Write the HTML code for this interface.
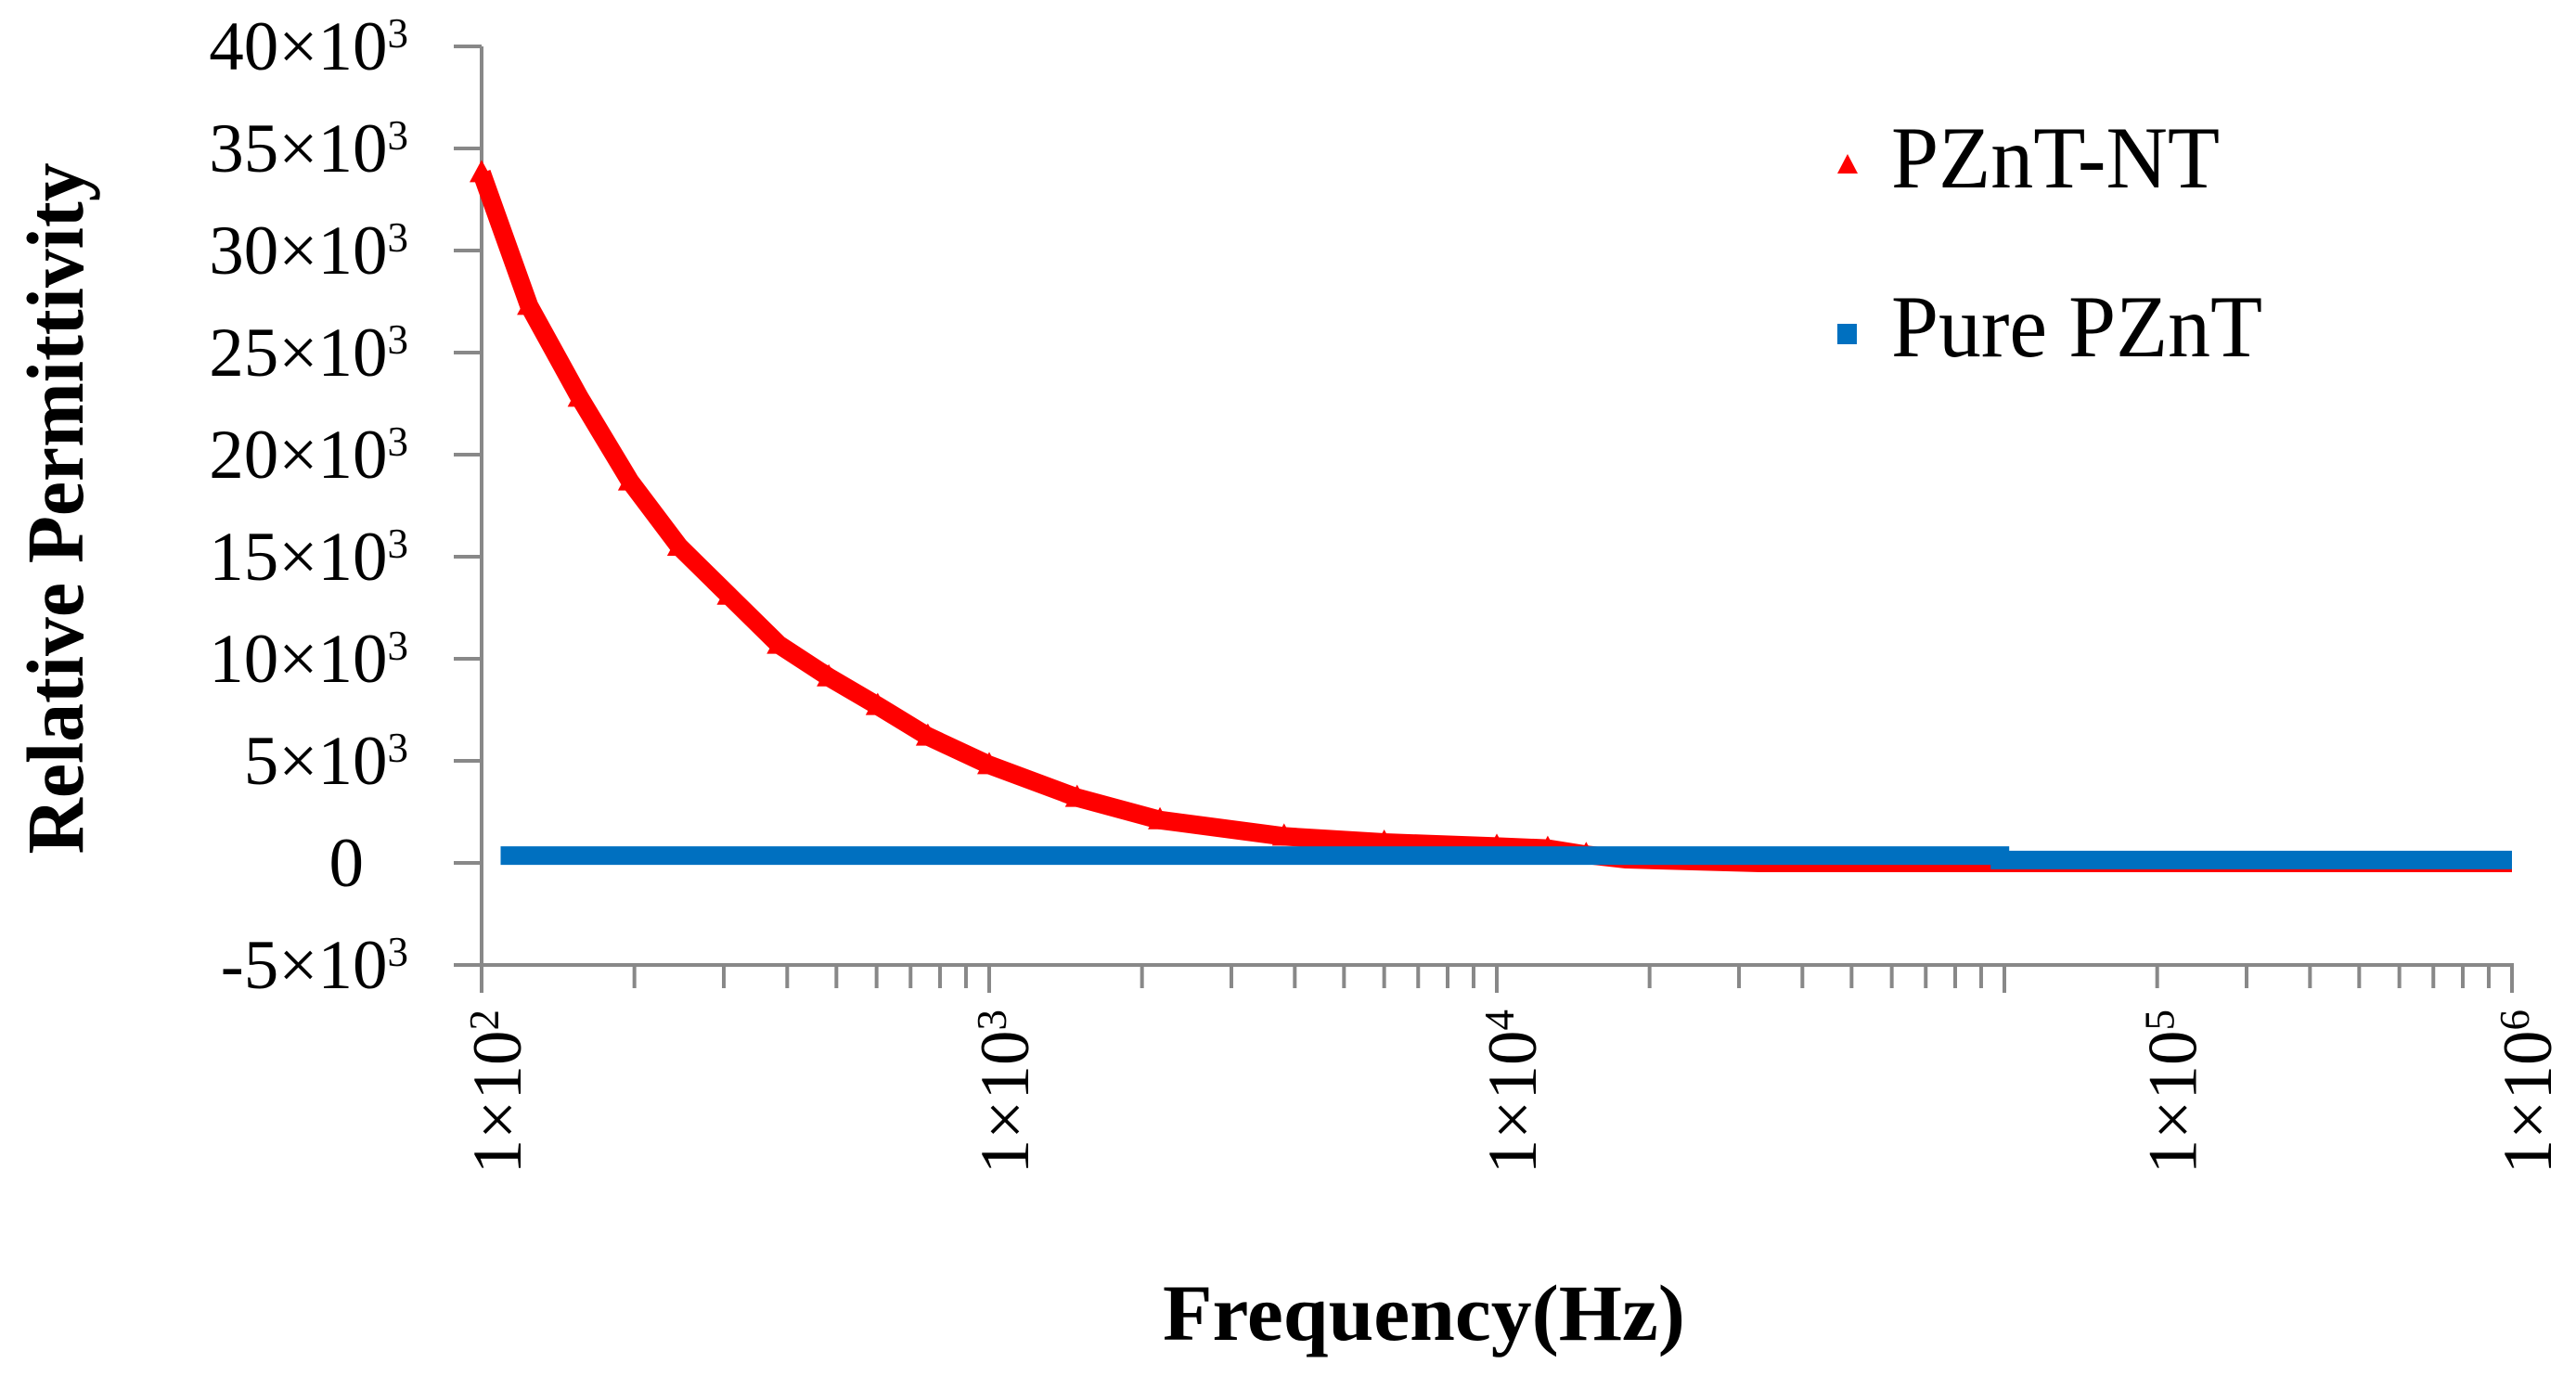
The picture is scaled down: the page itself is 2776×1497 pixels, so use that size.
<!DOCTYPE html>
<html><head><meta charset="utf-8"><style>
html,body{margin:0;padding:0;background:#fff;}
svg{display:block;font-family:"Liberation Serif",serif;}
</style></head><body>
<svg id="chart" width="2776" height="1497" viewBox="0 0 2776 1497" xmlns="http://www.w3.org/2000/svg">
<rect width="2776" height="1497" fill="#fff"/>
<g id="axes"></g>
<g id="series"></g>
<text transform="translate(89,548) rotate(-90)" text-anchor="middle" font-size="87" font-weight="bold" textLength="745" lengthAdjust="spacingAndGlyphs">Relative Permittivity</text>
<text x="1253" y="1444" font-size="86" font-weight="bold" textLength="563" lengthAdjust="spacingAndGlyphs">Frequency(Hz)</text>
<g>
  <polygon points="1991,166 2002,187 1980,187" fill="#ff0000"/>
  <text x="2038" y="202" font-size="95" textLength="354" lengthAdjust="spacingAndGlyphs">PZnT-NT</text>
  <rect x="1980" y="349" width="21" height="22" fill="#0070c0"/>
  <text x="2038" y="384" font-size="95" textLength="400" lengthAdjust="spacingAndGlyphs">Pure PZnT</text>
</g>
</svg>
<script>
const yTicks = [-5, 0, 5, 10, 15, 20, 25, 30, 35, 40];
const yTickLabels = ["-5×10", "0", "5×10", "10×10", "15×10", "20×10", "25×10", "30×10", "35×10", "40×10"];
const xLabelValues = [100, 1000, 10000, 200000, 1000000];
const xLabelExps = ["2", "3", "4", "5", "6"];
const redFreq = [100, 124, 156, 196, 245, 307, 385, 483, 603, 757, 1000, 1490, 2170, 3810, 6000, 10000, 12600, 15000, 18000, 33000, 100000, 1000000];
const redVal = [33.8, 27.3, 22.8, 18.7, 15.5, 13.1, 10.7, 9.1, 7.7, 6.2, 4.8, 3.2, 2.1, 1.3, 1.0, 0.8, 0.7, 0.4, 0.18, 0.0, 0.0, 0.0];
const blueFreq = [109, 98000, 98000, 1000000];
const blueVal = [0.36, 0.36, 0.14, 0.14];

const NS = "http://www.w3.org/2000/svg";
const X0 = 519, DEC = 547, Y0 = 930, PERK = 22;
function xs(f){ return X0 + (Math.log10(f) - 2) * DEC; }
function ys(v){ return Y0 - v * PERK; }
function mk(tag, attrs, parent){ const e = document.createElementNS(NS, tag); for (const k in attrs) e.setAttribute(k, attrs[k]); parent.appendChild(e); return e; }

const axes = document.getElementById("axes");
const series = document.getElementById("series");
const AX = "#888";
const yBottom = ys(-5), yTop = ys(40);
const yAxis = mk("line", {x1: X0, y1: yTop, x2: X0, y2: yBottom + 2, stroke: AX, "stroke-width": 4}, axes);


const xAxis = mk("line", {x1: X0 - 30, y1: yBottom, x2: xs(1e6) + 2, y2: yBottom, stroke: AX, "stroke-width": 4}, axes);



yTicks.forEach((v, i) => {
  const y = ys(v);
  const t = mk("line", {x1: X0 - 30, y1: y, x2: X0, y2: y, stroke: AX, "stroke-width": 4}, axes);
  
  
  const isZero = yTickLabels[i] === "0";
  const tx = mk("text", {x: isZero ? 392 : 440, y: y + 25, "text-anchor": "end", "font-size": 75}, axes);
  
  
  tx.appendChild(document.createTextNode(yTickLabels[i]));
  if (!isZero) {
    const s = mk("tspan", {"font-size": 45, dy: -24}, tx);
    s.textContent = "3";
  }
});

for (let d = 2; d < 6; d++) {
  for (let m = 1; m <= 10; m++) {
    const f = m * Math.pow(10, d);
    if (m === 10 && d < 5) continue;
    const major = (m === 1 || m === 10);
    const x = xs(f);
    const t = mk("line", {x1: x, y1: yBottom, x2: x, y2: yBottom + (major ? 30 : 25), stroke: AX, "stroke-width": 4}, axes);
    
    
  }
}
xLabelValues.forEach((f, i) => {
  const x = xs(f) + 42;
  const tx = mk("text", {transform: "translate(" + x + ",1088) rotate(-90)", "text-anchor": "end", "font-size": 75}, axes);
  
  
  tx.appendChild(document.createTextNode("1×10"));
  const s = mk("tspan", {"font-size": 45, dy: -24}, tx);
  s.textContent = xLabelExps[i];
});

const redPts = redFreq.map((f, i) => xs(f).toFixed(1) + "," + ys(redVal[i]).toFixed(1)).join(" ");
const red = mk("polyline", {points: redPts, fill: "none", stroke: "#ff0000", "stroke-width": 20, "stroke-linejoin": "round"}, series);


redFreq.forEach((f, i) => {
  if (redVal[i] < 0.3) return;
  const x = xs(f), y = ys(redVal[i]);
  const p = mk("polygon", {points: x + "," + (y - 14) + " " + (x + 13) + "," + (y + 10) + " " + (x - 13) + "," + (y + 10), fill: "#ff0000"}, series);
  
  
});

const bluePts = blueFreq.map((f, i) => xs(f).toFixed(1) + "," + ys(blueVal[i]).toFixed(1)).join(" ");
const blue = mk("polyline", {points: bluePts, fill: "none", stroke: "#0070c0", "stroke-width": 20}, series);


</script>
</body></html>
